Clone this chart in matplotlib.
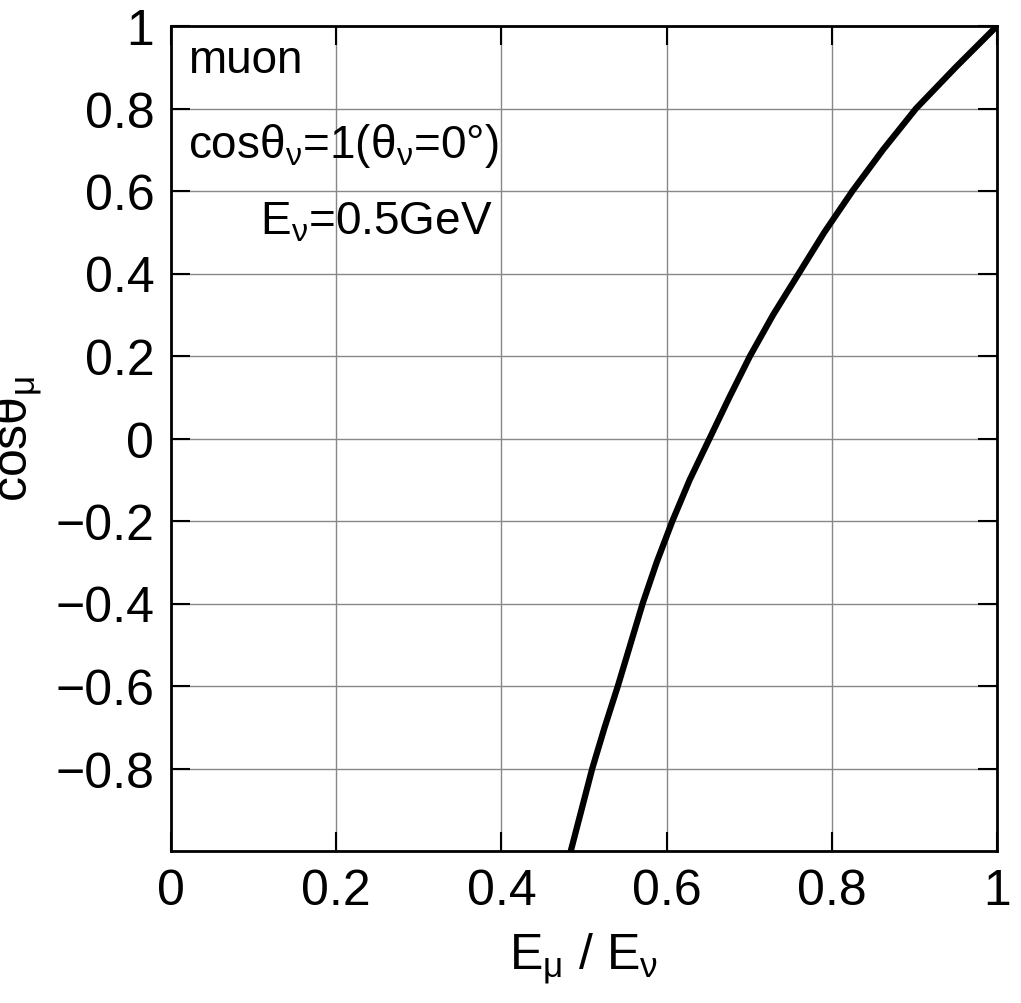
import matplotlib
matplotlib.use("Agg")
import matplotlib.pyplot as plt

plt.rcParams['font.family'] = ['Liberation Sans', 'DejaVu Sans']
plt.rcParams['mathtext.fontset'] = 'custom'
plt.rcParams['mathtext.rm'] = 'Liberation Sans'
plt.rcParams['mathtext.it'] = 'Liberation Sans'

x_ratio = [0.484, 0.497, 0.510, 0.525, 0.541, 0.556, 0.571, 0.588, 0.607, 0.628, 0.652, 0.676, 0.701, 0.729, 0.760, 0.791, 0.825, 0.862, 0.902, 0.950, 1.0]
cos_mu  = [-1.0, -0.9, -0.8, -0.7, -0.6, -0.5, -0.4, -0.3, -0.2, -0.1, 0.0, 0.1, 0.2, 0.3, 0.4, 0.5, 0.6, 0.7, 0.8, 0.9, 1.0]
xticks = [0, 0.2, 0.4, 0.6, 0.8, 1]
xlabels = ['0', '0.2', '0.4', '0.6', '0.8', '1']
yticks = [1, 0.8, 0.6, 0.4, 0.2, 0, -0.2, -0.4, -0.6, -0.8]
ylabels = ['1', '0.8', '0.6', '0.4', '0.2', '0', '−0.2', '−0.4', '−0.6', '−0.8']

fig = plt.figure(figsize=(10.21, 10.04), dpi=100)
ax = fig.add_axes([171/1021, 1-852/1004, 826/1021, 825/1004])
ax.plot(x_ratio, cos_mu, color='black', lw=4.5, solid_capstyle='round', solid_joinstyle='round')
ax.set_xlim(0, 1)
ax.set_ylim(-1, 1)
ax.set_xticks(xticks)
ax.set_xticklabels(xlabels)
ax.set_yticks(yticks)
ax.set_yticklabels(ylabels)
ax.grid(True, color='#888888', lw=1)
ax.tick_params(direction='in', length=14, width=1.5, labelsize=36, top=True, right=True, pad=12)
for s in ax.spines.values():
    s.set_linewidth(2)
ax.set_xlabel(r'E$_\mu$ / E$_\nu$', fontsize=36, labelpad=12)
ax.set_ylabel(r'cosθ$_\mu$', fontsize=36, labelpad=8)
ax.text(0.02, 0.985, 'muon', transform=ax.transAxes, fontsize=33, va='top')
ax.text(0.02, 0.885, r'cosθ$_\nu$=1(θ$_\nu$=0°)', transform=ax.transAxes, fontsize=33, va='top')
ax.text(0.108, 0.79, r'E$_\nu$=0.5GeV', transform=ax.transAxes, fontsize=33, va='top')
fig.savefig('out.png', dpi=100)
